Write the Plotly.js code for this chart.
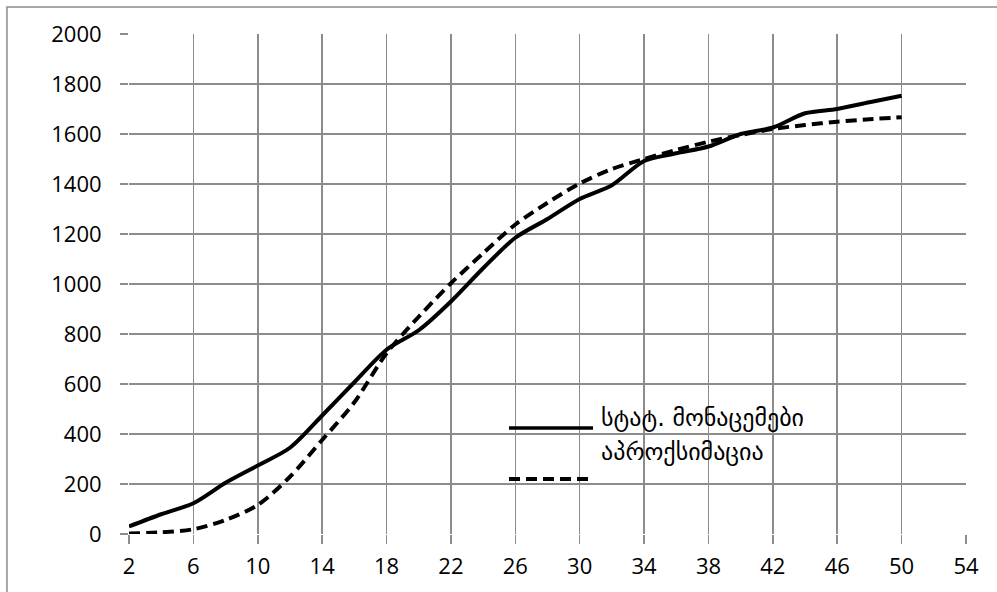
<!DOCTYPE html>
<html>
<head>
<meta charset="utf-8">
<script src="https://cdn.plot.ly/plotly-3.0.1.min.js"></script>
<style>
  html, body { margin: 0; padding: 0; background: #ffffff; }
  #chart { width: 997px; height: 592px; }
</style>
</head>
<body>
<div id="chart"></div>
<script>
// ---- data ----
const xValues = [2, 4, 6, 8, 10, 12, 14, 16, 18, 20, 22, 24, 26, 28, 30, 32, 34, 36, 38, 40, 42, 44, 46, 48, 50];
const statData = [30, 79, 123, 205, 274, 345, 474, 607, 737, 815, 930, 1063, 1185, 1260, 1340, 1395, 1492, 1523, 1550, 1600, 1626, 1683, 1700, 1727, 1753];
const approxData = [2, 7, 19, 56, 116, 229, 376, 527, 723, 869, 1003, 1123, 1238, 1325, 1402, 1460, 1500, 1536, 1569, 1596, 1620, 1636, 1649, 1659, 1667];
const seriesNames = ["სტატ. მონაცემები", "აპროქსიმაცია"];
const xTicks = [2, 6, 10, 14, 18, 22, 26, 30, 34, 38, 42, 46, 50, 54];
const yTicks = [0, 200, 400, 600, 800, 1000, 1200, 1400, 1600, 1800, 2000];

const gridColor = "#8c8c8c";
const tickFont = { family: "'Open Sans', 'DejaVu Sans', sans-serif", size: 22, color: "#000000" };
const legendFont = { family: "'DejaVu Sans', sans-serif", size: 24, color: "#000000" };

const traces = [
  {
    x: xValues, y: statData, name: seriesNames[0], type: "scatter", mode: "lines",
    line: { color: "#000000", width: 4, shape: "spline", smoothing: 0.8 },
    hoverinfo: "skip"
  },
  {
    x: xValues, y: approxData, name: seriesNames[1], type: "scatter", mode: "lines",
    line: { color: "#000000", width: 4, dash: "11px,6px", shape: "spline", smoothing: 0.8 },
    hoverinfo: "skip"
  }
];

const layout = {
  width: 997, height: 592,
  margin: { l: 129, r: 31, t: 34, b: 58 },
  paper_bgcolor: "#ffffff", plot_bgcolor: "#ffffff",
  showlegend: false,
  xaxis: {
    range: [2, 54], tickmode: "array", tickvals: xTicks, ticktext: xTicks.map(String),
    showgrid: true, gridcolor: gridColor, gridwidth: 1.5,
    zeroline: false, showline: false,
    ticks: "outside", ticklen: 9, tickwidth: 1.5, tickcolor: gridColor,
    ticklabelstandoff: 4,
    tickfont: tickFont, fixedrange: true
  },
  yaxis: {
    range: [0, 2000], tickmode: "array", tickvals: yTicks, ticktext: yTicks.map(String),
    showgrid: true, gridcolor: gridColor, gridwidth: 1.5,
    zeroline: false, showline: false,
    ticks: "outside", ticklen: 8, tickwidth: 1.5, tickcolor: gridColor,
    ticklabelstandoff: 14,
    tickfont: tickFont, fixedrange: true
  },
  shapes: [
    // outer chart border (right and bottom edges fall outside the picture)
    { type: "rect", xref: "paper", yref: "paper", x0: -0.1458, x1: 1.06, y0: -0.16, y1: 1.054,
      line: { color: gridColor, width: 1.5 }, fillcolor: "rgba(0,0,0,0)", layer: "below" },
    // legend samples
    { type: "line", xref: "paper", yref: "paper", x0: 0.454, x1: 0.5544, y0: 0.212, y1: 0.212,
      line: { color: "#000000", width: 3.5 } },
    { type: "line", xref: "paper", yref: "paper", x0: 0.454, x1: 0.5544, y0: 0.11, y1: 0.11,
      line: { color: "#000000", width: 4, dash: "11px,6px" } }
  ],
  annotations: [
    { xref: "paper", yref: "paper", x: 0.5615, y: 0.232, xanchor: "left", yanchor: "middle",
      text: seriesNames[0], showarrow: false, font: legendFont },
    { xref: "paper", yref: "paper", x: 0.5615, y: 0.164, xanchor: "left", yanchor: "middle",
      text: seriesNames[1], showarrow: false, font: legendFont }
  ]
};

Plotly.newPlot("chart", traces, layout, { displayModeBar: false, staticPlot: true });
</script>
</body>
</html>
